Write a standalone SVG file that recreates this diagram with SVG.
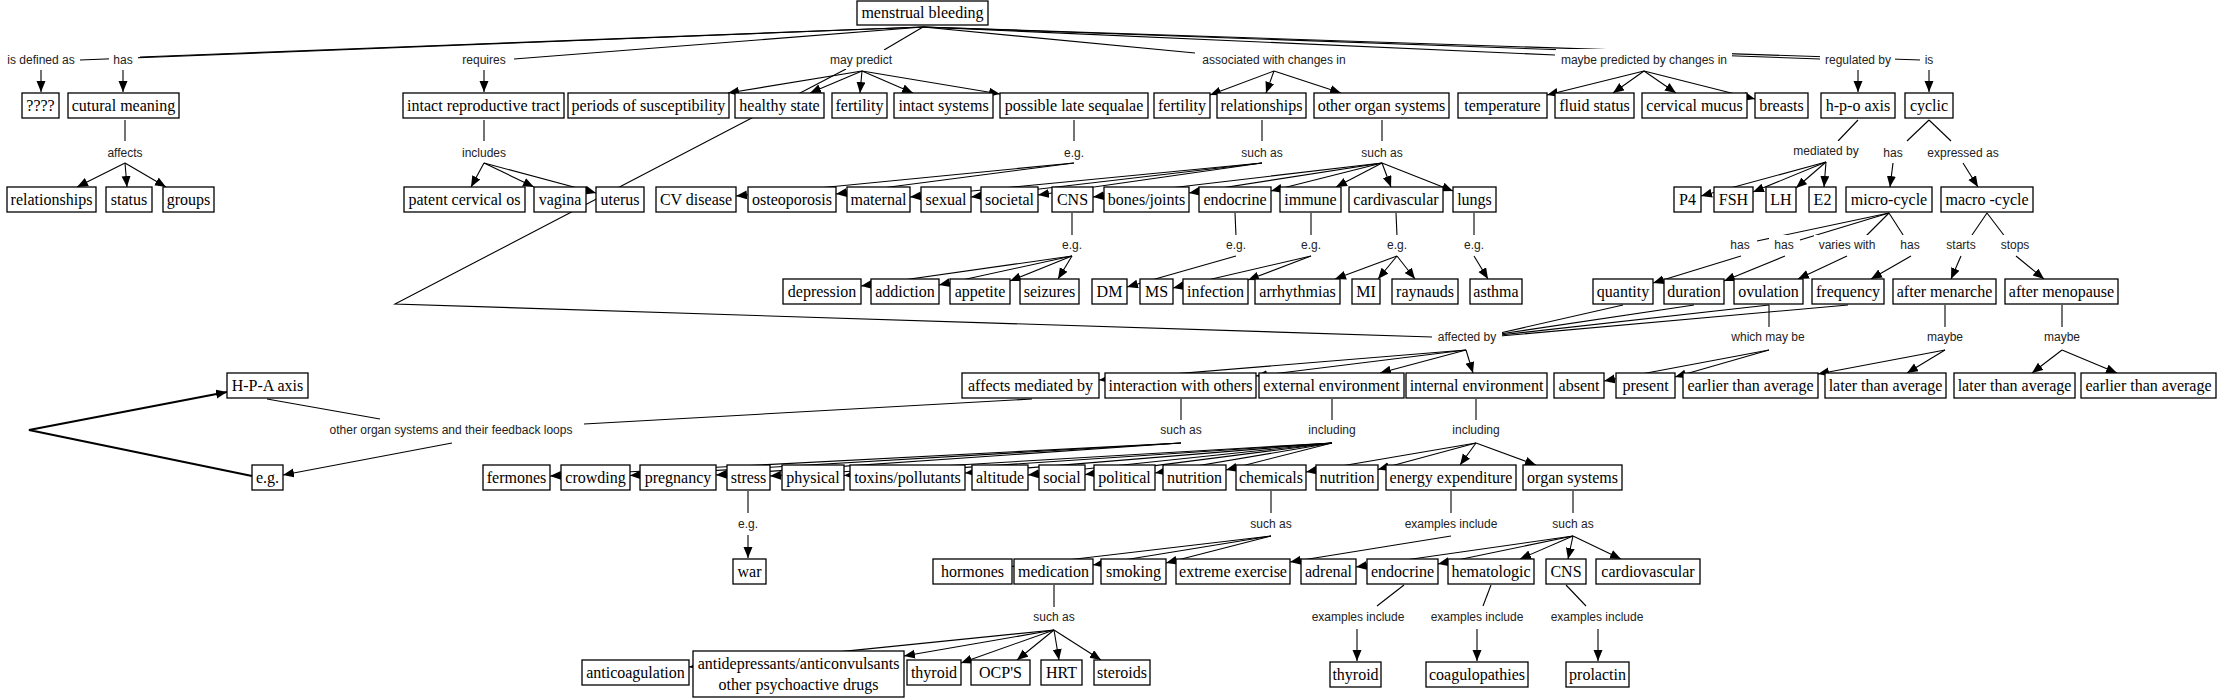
<svg xmlns="http://www.w3.org/2000/svg" width="2218" height="699" viewBox="0 0 2218 699">
<style>
.n rect{fill:#fff;stroke:#000;stroke-width:1.3}
.n text{font-family:"Liberation Serif","Times New Roman",serif;font-size:16px;text-anchor:middle;fill:#000}
.l rect{fill:#fff}
.l text{font-family:"Liberation Sans",Arial,sans-serif;font-size:12px;text-anchor:middle;fill:#222}
#conn path{stroke:#000;stroke-width:1.1;fill:none}
#conn path.a{marker-end:url(#ah)}
#conn path.t{stroke-width:2.2}
</style>
<defs>
<marker id="ah" markerWidth="12" markerHeight="10" refX="11" refY="4.5" orient="auto" markerUnits="userSpaceOnUse"><path d="M0,0 L11,4.5 L0,9 z" fill="#000"/></marker>
</defs>
<rect width="2218" height="699" fill="#fff"/>
<g id="conn">
<path d="M923,27 L140,57"/><path d="M923,27 L80,60"/><path d="M923,27 L514,59"/><path d="M923,27 L884,50"/><path d="M923,27 L1195,53"/><path d="M923,27 L1555,55"/><path d="M923,27 L1820,59"/><path d="M923,27 L1921,60"/>
<path class="a" d="M41,70 L41,92"/><path class="a" d="M123,70 L123,92"/><path class="a" d="M484,70 L484,92"/><path class="a" d="M1858,70 L1858,92"/><path class="a" d="M1929,70 L1929,92"/>
<path class="a" d="M862,71 L728,93"/><path class="a" d="M862,71 L810,93"/><path class="a" d="M862,71 L860,93"/><path class="a" d="M862,71 L913,93"/><path class="a" d="M862,71 L1000,94"/>
<path class="a" d="M1274,71 L1210,95"/><path class="a" d="M1274,71 L1266,93"/><path class="a" d="M1274,71 L1341,93"/>
<path class="a" d="M1644,71 L1547,95"/><path class="a" d="M1644,71 L1613,93"/><path class="a" d="M1644,71 L1676,93"/><path class="a" d="M1644,71 L1755,99"/>
<path d="M125,120 L125,141"/><path d="M484,120 L484,141"/><path d="M1074,120 L1074,141"/><path d="M1262,120 L1262,141"/><path d="M1382,120 L1382,141"/><path d="M1858,120 L1838,141"/><path d="M1929,120 L1907,141"/><path d="M1929,120 L1951,141"/>
<path class="a" d="M125,163 L77,187"/><path class="a" d="M125,163 L127,187"/><path class="a" d="M125,163 L166,187"/>
<path class="a" d="M484,163 L471,187"/><path class="a" d="M484,163 L534,187"/><path class="a" d="M484,163 L596,193"/>
<path class="a" d="M1074,163 L736,196"/><path class="a" d="M1074,163 L836,194"/>
<path class="a" d="M1262,163 L910,197"/><path class="a" d="M1262,163 L971,197"/><path class="a" d="M1262,163 L1038,195"/>
<path class="a" d="M1382,163 L1093,197"/><path class="a" d="M1382,163 L1189,193"/><path class="a" d="M1382,163 L1271,191"/><path class="a" d="M1382,163 L1336,187"/><path class="a" d="M1382,163 L1391,187"/><path class="a" d="M1382,163 L1453,191"/>
<path class="a" d="M1826,162 L1701,196"/><path class="a" d="M1826,162 L1753,192"/><path class="a" d="M1826,162 L1796,188"/><path class="a" d="M1826,162 L1824,187"/>
<path class="a" d="M1893,163 L1890,187"/><path class="a" d="M1963,163 L1978,187"/>
<path d="M1072,213 L1072,236"/><path d="M1235,213 L1236,236"/><path d="M1311,213 L1311,236"/><path d="M1396,213 L1397,236"/><path d="M1474,213 L1474,236"/>
<path d="M1889,213 L1757,241"/><path d="M1889,213 L1800,240"/><path d="M1889,213 L1864,238"/><path d="M1889,213 L1905,238"/>
<path d="M1987,213 L1970,238"/><path d="M1987,213 L2006,238"/>
<path class="a" d="M1072,256 L861,286"/><path class="a" d="M1072,256 L939,285"/><path class="a" d="M1072,256 L1010,281"/><path class="a" d="M1072,256 L1058,279"/>
<path class="a" d="M1236,256 L1127,287"/>
<path class="a" d="M1311,256 L1173,288"/><path class="a" d="M1311,256 L1248,280"/>
<path class="a" d="M1397,256 L1335,279"/><path class="a" d="M1397,256 L1378,279"/><path class="a" d="M1397,256 L1415,279"/>
<path class="a" d="M1474,256 L1488,279"/>
<path class="a" d="M1741,256 L1653,283"/><path class="a" d="M1785,256 L1724,281"/><path class="a" d="M1847,256 L1798,279"/><path class="a" d="M1911,256 L1871,279"/><path class="a" d="M1961,256 L1951,279"/><path class="a" d="M2016,256 L2044,279"/>
<path d="M1623,305 L1500,333"/><path d="M1694,305 L1500,334"/><path d="M1769,305 L1500,335"/><path d="M1848,305 L1500,336"/>
<path d="M846,69 L395,304 L1432,337"/>
<path d="M1769,305 L1769,328"/><path d="M1945,305 L1945,328"/><path d="M2062,305 L2062,328"/>
<path class="a" d="M1769,350 L1604,381"/><path class="a" d="M1769,350 L1675,377"/>
<path class="a" d="M1945,350 L1818,374"/><path class="a" d="M1945,350 L1907,373"/>
<path class="a" d="M2062,350 L2032,373"/><path class="a" d="M2062,350 L2117,373"/>
<path class="a" d="M1466,350 L1099,380"/><path class="a" d="M1466,350 L1256,376"/><path class="a" d="M1466,350 L1380,373"/><path class="a" d="M1466,350 L1473,373"/>
<path d="M1181,399 L1181,421"/><path d="M1332,399 L1332,421"/><path d="M1476,399 L1476,421"/>
<path d="M1032,399 L584,424"/><path d="M380,419 L267,399"/>
<path class="a" d="M452,443 L283,475"/>
<path class="a t" d="M252,476 L29,430 L227,392"/>
<path class="a" d="M1181,443 L550,476"/><path class="a" d="M1181,443 L630,475.5"/><path class="a" d="M1181,443 L716,475"/>
<path class="a" d="M1332,443 L770,476"/><path class="a" d="M1332,443 L844,475.5"/><path class="a" d="M1332,443 L965,473"/><path class="a" d="M1332,443 L1028,475"/><path class="a" d="M1332,443 L1085,474.6"/><path class="a" d="M1332,443 L1155,473"/><path class="a" d="M1332,443 L1226,470"/>
<path class="a" d="M1476,443 L1306,472"/><path class="a" d="M1476,443 L1378,469.5"/><path class="a" d="M1476,443 L1460,465"/><path class="a" d="M1476,443 L1536,465"/>
<path d="M748,491 L748,513"/><path d="M1271,491 L1271,513"/><path d="M1451,491 L1451,513"/><path d="M1573,491 L1573,513"/>
<path class="a" d="M748,535 L748,558"/>
<path class="a" d="M1271,536 L1012,566.5"/><path class="a" d="M1271,536 L1093,565"/><path class="a" d="M1271,536 L1166,563"/>
<path class="a" d="M1451,536 L1290,562"/>
<path class="a" d="M1573,536 L1356,567"/><path class="a" d="M1573,536 L1438,564"/><path class="a" d="M1573,536 L1520,559"/><path class="a" d="M1573,536 L1568,559"/><path class="a" d="M1573,536 L1621,559"/>
<path d="M1054,585 L1054,607"/><path d="M1404,585 L1377,606"/><path d="M1491,585 L1483,606"/><path d="M1566,585 L1586,606"/>
<path class="a" d="M1357,629 L1357,661"/><path class="a" d="M1477,629 L1477,661"/><path class="a" d="M1598,629 L1598,661"/>
<path class="a" d="M1054,630 L689,667"/><path class="a" d="M1054,630 L904,656"/><path class="a" d="M1054,630 L961,663"/><path class="a" d="M1054,630 L1017,660"/><path class="a" d="M1054,630 L1059,660"/><path class="a" d="M1054,630 L1101,660"/>
</g>
<g id="labels">
<g id="l1" class="l"><rect x="3" y="50" width="76" height="19"/><text x="41" y="64">is defined as</text></g>
<g id="l2" class="l"><rect x="109" y="50" width="29" height="19"/><text x="123" y="64">has</text></g>
<g id="l3" class="l"><rect x="457" y="50" width="54" height="19"/><text x="484" y="64">requires</text></g>
<g id="l4" class="l"><rect x="825" y="50" width="72" height="19"/><text x="861" y="64">may predict</text></g>
<g id="l5" class="l"><rect x="1197" y="50" width="153" height="19"/><text x="1274" y="64">associated with changes in</text></g>
<g id="l6" class="l"><rect x="1556" y="49" width="176" height="20"/><text x="1644" y="64">maybe predicted by changes in</text></g>
<g id="l7" class="l"><rect x="1820" y="50" width="75" height="19"/><text x="1858" y="64">regulated by</text></g>
<g id="l8" class="l"><rect x="1920" y="50" width="18" height="19"/><text x="1929" y="64">is</text></g>
<g id="l9" class="l"><rect x="102" y="143" width="45" height="19"/><text x="125" y="157">affects</text></g>
<g id="l10" class="l"><rect x="457" y="143" width="54" height="19"/><text x="484" y="157">includes</text></g>
<g id="l11" class="l"><rect x="1059" y="143" width="30" height="19"/><text x="1074" y="157">e.g.</text></g>
<g id="l12" class="l"><rect x="1236" y="143" width="51" height="19"/><text x="1262" y="157">such as</text></g>
<g id="l13" class="l"><rect x="1356" y="143" width="51" height="19"/><text x="1382" y="157">such as</text></g>
<g id="l14" class="l"><rect x="1788" y="141" width="75" height="19"/><text x="1826" y="155">mediated by</text></g>
<g id="l15" class="l"><rect x="1878" y="143" width="30" height="19"/><text x="1893" y="157">has</text></g>
<g id="l16" class="l"><rect x="1923" y="143" width="81" height="19"/><text x="1963" y="157">expressed as</text></g>
<g id="l17" class="l"><rect x="1057" y="235" width="30" height="19"/><text x="1072" y="249">e.g.</text></g>
<g id="l18" class="l"><rect x="1222" y="235" width="30" height="19"/><text x="1236" y="249">e.g.</text></g>
<g id="l19" class="l"><rect x="1297" y="235" width="30" height="19"/><text x="1311" y="249">e.g.</text></g>
<g id="l20" class="l"><rect x="1382" y="235" width="30" height="19"/><text x="1397" y="249">e.g.</text></g>
<g id="l21" class="l"><rect x="1459" y="235" width="30" height="19"/><text x="1474" y="249">e.g.</text></g>
<g id="l22" class="l"><rect x="1725" y="235" width="30" height="19"/><text x="1740" y="249">has</text></g>
<g id="l23" class="l"><rect x="1769" y="235" width="30" height="19"/><text x="1784" y="249">has</text></g>
<g id="l24" class="l"><rect x="1814" y="235" width="66" height="19"/><text x="1847" y="249">varies with</text></g>
<g id="l25" class="l"><rect x="1895" y="235" width="30" height="19"/><text x="1910" y="249">has</text></g>
<g id="l26" class="l"><rect x="1941" y="235" width="40" height="19"/><text x="1961" y="249">starts</text></g>
<g id="l27" class="l"><rect x="1996" y="235" width="38" height="19"/><text x="2015" y="249">stops</text></g>
<g id="l28" class="l"><rect x="1432" y="327" width="70" height="19"/><text x="1467" y="341">affected by</text></g>
<g id="l29" class="l"><rect x="1726" y="327" width="84" height="19"/><text x="1768" y="341">which may be</text></g>
<g id="l30" class="l"><rect x="1922" y="327" width="46" height="19"/><text x="1945" y="341">maybe</text></g>
<g id="l31" class="l"><rect x="2040" y="327" width="46" height="19"/><text x="2062" y="341">maybe</text></g>
<g id="l32" class="l"><rect x="325" y="420" width="253" height="19"/><text x="451" y="434">other organ systems and their feedback loops</text></g>
<g id="l33" class="l"><rect x="1155" y="420" width="51" height="19"/><text x="1181" y="434">such as</text></g>
<g id="l34" class="l"><rect x="1303" y="420" width="58" height="19"/><text x="1332" y="434">including</text></g>
<g id="l35" class="l"><rect x="1448" y="420" width="58" height="19"/><text x="1476" y="434">including</text></g>
<g id="l36" class="l"><rect x="734" y="514" width="30" height="19"/><text x="748" y="528">e.g.</text></g>
<g id="l37" class="l"><rect x="1245" y="514" width="51" height="19"/><text x="1271" y="528">such as</text></g>
<g id="l38" class="l"><rect x="1400" y="514" width="102" height="19"/><text x="1451" y="528">examples include</text></g>
<g id="l39" class="l"><rect x="1548" y="514" width="51" height="19"/><text x="1573" y="528">such as</text></g>
<g id="l40" class="l"><rect x="1029" y="607" width="51" height="19"/><text x="1054" y="621">such as</text></g>
<g id="l41" class="l"><rect x="1306" y="607" width="104" height="19"/><text x="1358" y="621">examples include</text></g>
<g id="l42" class="l"><rect x="1426" y="607" width="104" height="19"/><text x="1477" y="621">examples include</text></g>
<g id="l43" class="l"><rect x="1547" y="607" width="102" height="19"/><text x="1597" y="621">examples include</text></g>
</g>
<g id="n_mb" class="n"><rect x="857" y="1" width="131" height="24"/><text x="922.5" y="18">menstrual bleeding</text></g>
<g id="n_q" class="n"><rect x="22" y="93" width="37" height="25"/><text x="40.5" y="111">????</text></g>
<g id="n_cm" class="n"><rect x="68" y="93" width="111" height="25"/><text x="123.5" y="111">cutural meaning</text></g>
<g id="n_irt" class="n"><rect x="403" y="93" width="161" height="25"/><text x="483.5" y="111">intact reproductive tract</text></g>
<g id="n_pos" class="n"><rect x="568" y="93" width="161" height="25"/><text x="648.5" y="111">periods of susceptibility</text></g>
<g id="n_hs" class="n"><rect x="735" y="93" width="89" height="25"/><text x="779.5" y="111">healthy state</text></g>
<g id="n_f1" class="n"><rect x="832" y="93" width="55" height="25"/><text x="859.5" y="111">fertility</text></g>
<g id="n_isys" class="n"><rect x="894" y="93" width="99" height="25"/><text x="943.5" y="111">intact systems</text></g>
<g id="n_pls" class="n"><rect x="1000" y="93" width="148" height="25"/><text x="1074" y="111">possible late sequalae</text></g>
<g id="n_f2" class="n"><rect x="1154" y="93" width="56" height="25"/><text x="1182" y="111">fertility</text></g>
<g id="n_rel" class="n"><rect x="1217" y="93" width="89" height="25"/><text x="1261.5" y="111">relationships</text></g>
<g id="n_oos" class="n"><rect x="1314" y="93" width="135" height="25"/><text x="1381.5" y="111">other organ systems</text></g>
<g id="n_temp" class="n"><rect x="1458" y="93" width="89" height="25"/><text x="1502.5" y="111">temperature</text></g>
<g id="n_fs" class="n"><rect x="1555" y="93" width="79" height="25"/><text x="1594.5" y="111">fluid status</text></g>
<g id="n_cmu" class="n"><rect x="1642" y="93" width="105" height="25"/><text x="1694.5" y="111">cervical mucus</text></g>
<g id="n_br" class="n"><rect x="1755" y="93" width="53" height="25"/><text x="1781.5" y="111">breasts</text></g>
<g id="n_hpo" class="n"><rect x="1821" y="93" width="74" height="25"/><text x="1858" y="111">h-p-o axis</text></g>
<g id="n_cyc" class="n"><rect x="1905" y="93" width="48" height="25"/><text x="1929" y="111">cyclic</text></g>
<g id="n_rel2" class="n"><rect x="7" y="187" width="89" height="25"/><text x="51.5" y="205">relationships</text></g>
<g id="n_status" class="n"><rect x="106" y="187" width="46" height="25"/><text x="129" y="205">status</text></g>
<g id="n_groups" class="n"><rect x="163" y="187" width="51" height="25"/><text x="188.5" y="205">groups</text></g>
<g id="n_pco" class="n"><rect x="404" y="187" width="121" height="25"/><text x="464.5" y="205">patent cervical os</text></g>
<g id="n_vag" class="n"><rect x="534" y="187" width="52" height="25"/><text x="560" y="205">vagina</text></g>
<g id="n_ut" class="n"><rect x="596" y="187" width="48" height="25"/><text x="620" y="205">uterus</text></g>
<g id="n_cvd" class="n"><rect x="656" y="187" width="80" height="25"/><text x="696" y="205">CV disease</text></g>
<g id="n_ost" class="n"><rect x="748" y="187" width="88" height="25"/><text x="792" y="205">osteoporosis</text></g>
<g id="n_mat" class="n"><rect x="847" y="187" width="63" height="25"/><text x="878.5" y="205">maternal</text></g>
<g id="n_sex" class="n"><rect x="921" y="187" width="50" height="25"/><text x="946" y="205">sexual</text></g>
<g id="n_soc" class="n"><rect x="981" y="187" width="57" height="25"/><text x="1009.5" y="205">societal</text></g>
<g id="n_cns" class="n"><rect x="1052" y="187" width="41" height="25"/><text x="1072.5" y="205">CNS</text></g>
<g id="n_bj" class="n"><rect x="1104" y="187" width="85" height="25"/><text x="1146.5" y="205">bones/joints</text></g>
<g id="n_endo" class="n"><rect x="1199" y="187" width="72" height="25"/><text x="1235" y="205">endocrine</text></g>
<g id="n_imm" class="n"><rect x="1280" y="187" width="61" height="25"/><text x="1310.5" y="205">immune</text></g>
<g id="n_cardv" class="n"><rect x="1349" y="187" width="94" height="25"/><text x="1396" y="205">cardivascular</text></g>
<g id="n_lungs" class="n"><rect x="1453" y="187" width="43" height="25"/><text x="1474.5" y="205">lungs</text></g>
<g id="n_p4" class="n"><rect x="1674" y="187" width="27" height="25"/><text x="1687.5" y="205">P4</text></g>
<g id="n_fsh" class="n"><rect x="1714" y="187" width="39" height="25"/><text x="1733.5" y="205">FSH</text></g>
<g id="n_lh" class="n"><rect x="1766" y="187" width="30" height="25"/><text x="1781" y="205">LH</text></g>
<g id="n_e2" class="n"><rect x="1809" y="187" width="27" height="25"/><text x="1822.5" y="205">E2</text></g>
<g id="n_micro" class="n"><rect x="1846" y="187" width="86" height="25"/><text x="1889" y="205">micro-cycle</text></g>
<g id="n_macro" class="n"><rect x="1941" y="187" width="92" height="25"/><text x="1987" y="205">macro -cycle</text></g>
<g id="n_dep" class="n"><rect x="783" y="279" width="78" height="25"/><text x="822" y="297">depression</text></g>
<g id="n_add" class="n"><rect x="871" y="279" width="68" height="25"/><text x="905" y="297">addiction</text></g>
<g id="n_app" class="n"><rect x="950" y="279" width="60" height="25"/><text x="980" y="297">appetite</text></g>
<g id="n_seiz" class="n"><rect x="1020" y="279" width="59" height="25"/><text x="1049.5" y="297">seizures</text></g>
<g id="n_dm" class="n"><rect x="1092" y="279" width="35" height="25"/><text x="1109.5" y="297">DM</text></g>
<g id="n_ms" class="n"><rect x="1140" y="279" width="33" height="25"/><text x="1156.5" y="297">MS</text></g>
<g id="n_inf" class="n"><rect x="1183" y="279" width="65" height="25"/><text x="1215.5" y="297">infection</text></g>
<g id="n_arr" class="n"><rect x="1255" y="279" width="85" height="25"/><text x="1297.5" y="297">arrhythmias</text></g>
<g id="n_mi" class="n"><rect x="1352" y="279" width="28" height="25"/><text x="1366" y="297">MI</text></g>
<g id="n_ray" class="n"><rect x="1392" y="279" width="66" height="25"/><text x="1425" y="297">raynauds</text></g>
<g id="n_asth" class="n"><rect x="1470" y="279" width="52" height="25"/><text x="1496" y="297">asthma</text></g>
<g id="n_qty" class="n"><rect x="1593" y="279" width="60" height="25"/><text x="1623" y="297">quantity</text></g>
<g id="n_dur" class="n"><rect x="1664" y="279" width="60" height="25"/><text x="1694" y="297">duration</text></g>
<g id="n_ovu" class="n"><rect x="1734" y="279" width="69" height="25"/><text x="1768.5" y="297">ovulation</text></g>
<g id="n_freq" class="n"><rect x="1812" y="279" width="72" height="25"/><text x="1848" y="297">frequency</text></g>
<g id="n_amen" class="n"><rect x="1893" y="279" width="103" height="25"/><text x="1944.5" y="297">after menarche</text></g>
<g id="n_amenop" class="n"><rect x="2005" y="279" width="113" height="25"/><text x="2061.5" y="297">after menopause</text></g>
<g id="n_hpa" class="n"><rect x="227" y="373" width="81" height="25"/><text x="267.5" y="391">H-P-A axis</text></g>
<g id="n_amb" class="n"><rect x="962" y="373" width="137" height="25"/><text x="1030.5" y="391">affects mediated by</text></g>
<g id="n_iwo" class="n"><rect x="1105" y="373" width="151" height="25"/><text x="1180.5" y="391">interaction with others</text></g>
<g id="n_ee" class="n"><rect x="1259" y="373" width="145" height="25"/><text x="1331.5" y="391">external environment</text></g>
<g id="n_ie" class="n"><rect x="1406" y="373" width="141" height="25"/><text x="1476.5" y="391">internal environment</text></g>
<g id="n_abs" class="n"><rect x="1554" y="373" width="50" height="25"/><text x="1579" y="391">absent</text></g>
<g id="n_pres" class="n"><rect x="1616" y="373" width="59" height="25"/><text x="1645.5" y="391">present</text></g>
<g id="n_eta1" class="n"><rect x="1683" y="373" width="135" height="25"/><text x="1750.5" y="391">earlier than average</text></g>
<g id="n_lta1" class="n"><rect x="1825" y="373" width="121" height="25"/><text x="1885.5" y="391">later than average</text></g>
<g id="n_lta2" class="n"><rect x="1954" y="373" width="121" height="25"/><text x="2014.5" y="391">later than average</text></g>
<g id="n_eta2" class="n"><rect x="2081" y="373" width="135" height="25"/><text x="2148.5" y="391">earlier than average</text></g>
<g id="n_eg" class="n"><rect x="252" y="465" width="31" height="25"/><text x="267.5" y="483">e.g.</text></g>
<g id="n_ferm" class="n"><rect x="483" y="465" width="67" height="25"/><text x="516.5" y="483">fermones</text></g>
<g id="n_crowd" class="n"><rect x="561" y="465" width="69" height="25"/><text x="595.5" y="483">crowding</text></g>
<g id="n_preg" class="n"><rect x="640" y="465" width="76" height="25"/><text x="678" y="483">pregnancy</text></g>
<g id="n_stress" class="n"><rect x="727" y="465" width="43" height="25"/><text x="748.5" y="483">stress</text></g>
<g id="n_phys" class="n"><rect x="782" y="465" width="62" height="25"/><text x="813" y="483">physical</text></g>
<g id="n_tox" class="n"><rect x="850" y="465" width="115" height="25"/><text x="907.5" y="483">toxins/pollutants</text></g>
<g id="n_alt" class="n"><rect x="972" y="465" width="56" height="25"/><text x="1000" y="483">altitude</text></g>
<g id="n_social" class="n"><rect x="1039" y="465" width="46" height="25"/><text x="1062" y="483">social</text></g>
<g id="n_pol" class="n"><rect x="1094" y="465" width="61" height="25"/><text x="1124.5" y="483">political</text></g>
<g id="n_nut1" class="n"><rect x="1163" y="465" width="63" height="25"/><text x="1194.5" y="483">nutrition</text></g>
<g id="n_chem" class="n"><rect x="1236" y="465" width="70" height="25"/><text x="1271" y="483">chemicals</text></g>
<g id="n_nut2" class="n"><rect x="1316" y="465" width="62" height="25"/><text x="1347" y="483">nutrition</text></g>
<g id="n_energy" class="n"><rect x="1386" y="465" width="130" height="25"/><text x="1451" y="483">energy expenditure</text></g>
<g id="n_orgsys" class="n"><rect x="1523" y="465" width="99" height="25"/><text x="1572.5" y="483">organ systems</text></g>
<g id="n_war" class="n"><rect x="733" y="559" width="33" height="25"/><text x="749.5" y="577">war</text></g>
<g id="n_horm" class="n"><rect x="933" y="559" width="79" height="25"/><text x="972.5" y="577">hormones</text></g>
<g id="n_med" class="n"><rect x="1014" y="559" width="79" height="25"/><text x="1053.5" y="577">medication</text></g>
<g id="n_smok" class="n"><rect x="1101" y="559" width="65" height="25"/><text x="1133.5" y="577">smoking</text></g>
<g id="n_exer" class="n"><rect x="1176" y="559" width="114" height="25"/><text x="1233" y="577">extreme exercise</text></g>
<g id="n_adr" class="n"><rect x="1301" y="559" width="55" height="25"/><text x="1328.5" y="577">adrenal</text></g>
<g id="n_endo2" class="n"><rect x="1367" y="559" width="71" height="25"/><text x="1402.5" y="577">endocrine</text></g>
<g id="n_hem" class="n"><rect x="1448" y="559" width="86" height="25"/><text x="1491" y="577">hematologic</text></g>
<g id="n_cns2" class="n"><rect x="1546" y="559" width="40" height="25"/><text x="1566" y="577">CNS</text></g>
<g id="n_cardio" class="n"><rect x="1596" y="559" width="104" height="25"/><text x="1648" y="577">cardiovascular</text></g>
<g id="n_antic" class="n"><rect x="582" y="660" width="107" height="25"/><text x="635.5" y="678">anticoagulation</text></g>
<g id="n_antid" class="n"><rect x="693" y="651" width="211" height="46"/><text x="798.5" y="669">antidepressants/anticonvulsants</text><text x="798.5" y="690">other psychoactive drugs</text></g>
<g id="n_thy1" class="n"><rect x="907" y="660" width="54" height="25"/><text x="934" y="678">thyroid</text></g>
<g id="n_ocp" class="n"><rect x="971" y="660" width="59" height="25"/><text x="1000.5" y="678">OCP'S</text></g>
<g id="n_hrt" class="n"><rect x="1041" y="660" width="41" height="25"/><text x="1061.5" y="678">HRT</text></g>
<g id="n_ster" class="n"><rect x="1094" y="660" width="56" height="25"/><text x="1122" y="678">steroids</text></g>
<g id="n_thy2" class="n"><rect x="1330" y="662" width="51" height="25"/><text x="1355.5" y="680">thyroid</text></g>
<g id="n_coag" class="n"><rect x="1426" y="662" width="102" height="25"/><text x="1477" y="680">coagulopathies</text></g>
<g id="n_prol" class="n"><rect x="1566" y="662" width="63" height="25"/><text x="1597.5" y="680">prolactin</text></g>
</svg>
